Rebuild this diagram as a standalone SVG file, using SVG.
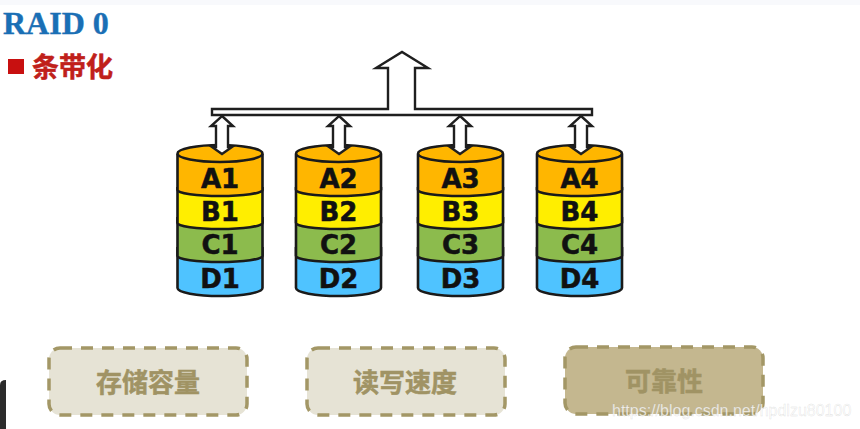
<svg xmlns="http://www.w3.org/2000/svg" width="860" height="429" viewBox="0 0 860 429">
<style>
.d{stroke:#1a1a1a;stroke-width:2.6;stroke-linejoin:round}
.a{fill:#ffb600}.b{fill:#ffee00}.c{fill:#8cbb4d}.e{fill:#4fc3ff}
.l{font:bold 26px "DejaVu Sans",sans-serif;fill:#111;text-anchor:middle;stroke:#111;stroke-width:.5}
.w{fill:#fff;stroke:#1f1f1f;stroke-width:2.4;stroke-linejoin:miter}
.n{font:bold 26px "Noto Sans CJK SC",sans-serif;fill:#a09364;text-anchor:middle;stroke:#a09364;stroke-width:.5}
.o{stroke:#a39766;stroke-width:3.5;stroke-dasharray:12 9}
</style>
<defs>
<g id="disk">
<path class="e" d="M-42.500 -40H42.500V1A42.500 8 0 0 1 -42.500 1Z"/>
<path class="d" fill="none" d="M-42.500 -40V1A42.500 8 0 0 0 42.500 1V-40"/>
<path class="c" d="M-42.500 -70H42.500V-31A42.500 6 0 0 1 -42.500 -31Z"/>
<path class="d" fill="none" d="M-42.500 -70V-31A42.500 6 0 0 0 42.500 -31V-70"/>
<path class="b" d="M-42.500 -100H42.500V-64A42.500 6 0 0 1 -42.500 -64Z"/>
<path class="d" fill="none" d="M-42.500 -100V-64A42.500 6 0 0 0 42.500 -64V-100"/>
<path class="a" d="M-42.500 -133H42.500V-97A42.500 6 0 0 1 -42.500 -97Z"/>
<path class="d" fill="none" d="M-42.500 -133V-97A42.500 6 0 0 0 42.500 -97V-133"/>
<ellipse class="d a" cx="0" cy="-133.500" rx="42.500" ry="8.500"/>
</g>
<path id="dbl" class="w" d="M0 -10L11 0H6V21H10L0 28L-10 21H-6V0H-11Z"/>
</defs>
<rect width="860" height="5" fill="#f8f9fc"/>
<g id="title">
<text x="3" y="34" font-family="Liberation Serif,serif" font-weight="bold" font-size="32" fill="#1a6fb5" stroke="#1a6fb5" stroke-width=".4">RAID 0</text>
<rect x="8" y="59" width="16" height="15" fill="#c81010"/>
<text x="32" y="77" font-family="Noto Sans CJK SC,sans-serif" font-weight="bold" font-size="27" fill="#c0201a" stroke="#c0201a" stroke-width=".5">条带化</text>
</g>
<g id="disk1">
<use href="#disk" x="220" y="287"/>
<text class="l" x="220" y="188">A1</text><text class="l" x="220" y="221">B1</text><text class="l" x="220" y="254">C1</text><text class="l" x="220" y="288">D1</text>
</g>
<g id="disk2">
<use href="#disk" x="338.500" y="287"/>
<text class="l" x="338.500" y="188">A2</text><text class="l" x="338.500" y="221">B2</text><text class="l" x="338.500" y="254">C2</text><text class="l" x="338.500" y="288">D2</text>
</g>
<g id="disk3">
<use href="#disk" x="460.500" y="287"/>
<text class="l" x="460.500" y="188">A3</text><text class="l" x="460.500" y="221">B3</text><text class="l" x="460.500" y="254">C3</text><text class="l" x="460.500" y="288">D3</text>
</g>
<g id="disk4">
<use href="#disk" x="579.500" y="287"/>
<text class="l" x="579.500" y="188">A4</text><text class="l" x="579.500" y="221">B4</text><text class="l" x="579.500" y="254">C4</text><text class="l" x="579.500" y="288">D4</text>
</g>
<g id="connectors">
<use href="#dbl" x="222" y="126"/>
<use href="#dbl" x="339" y="126"/>
<use href="#dbl" x="460" y="126"/>
<use href="#dbl" x="581" y="126"/>
<path class="w" d="M212 109H388V68H376L402 52L428 68H415V109H592V115H212Z"/>
</g>
<g id="capacity">
<rect class="o" x="49" y="348" width="198" height="67" rx="11" fill="#e6e3d5"/>
<text class="n" x="148" y="392">存储容量</text>
</g>
<g id="speed">
<rect class="o" x="307" y="348" width="198" height="67" rx="11" fill="#e6e3d5"/>
<text class="n" x="405" y="392">读写速度</text>
</g>
<g id="reliability">
<rect class="o" x="565" y="347" width="198" height="67" rx="11" fill="#c4b78f"/>
<text class="n" x="664" y="391">可靠性</text>
</g>
<path d="M0 385Q0 380 6 380V429H0Z" fill="#2b2b2b"/>
<text x="612" y="416" font-family="Liberation Sans,sans-serif" font-size="16" fill="#fff" fill-opacity=".8" stroke="#999" stroke-opacity=".35" stroke-width=".4">https://blog.csdn.net/hpdlzu80100</text>
</svg>
